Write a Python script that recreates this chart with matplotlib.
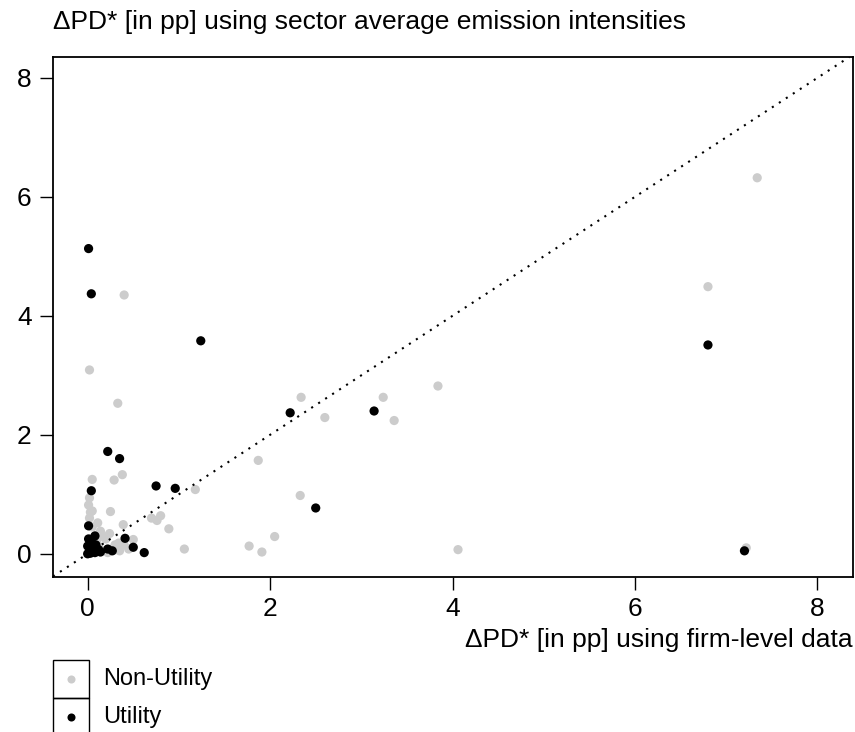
import matplotlib
matplotlib.use("Agg")
import matplotlib.pyplot as plt
from matplotlib.patches import Rectangle
from matplotlib.lines import Line2D

plt.rcParams["font.family"] = ["Liberation Sans", "DejaVu Sans"]

# Non-utility firms (grey)
nonutil_x = [7.34, 6.80, 0.40, 0.02, 3.84, 3.24, 2.34, 2.60, 3.36, 0.33, 1.87,
             0.05, 0.29, 0.38, 1.18, 2.33, 0.02, 0.01, 0.05, 0.25, 0.70, 0.76,
             0.80, 0.89, 0.39, 0.11, 1.06, 1.77, 1.91, 2.05, 4.06, 7.22, 0.24,
             0.34, 0.50, 0.17, 0.02, 0.05, 0.14, 0.10, 0.20, 0.30, 0.22, 0.35,
             0.45, 0.15, 0.40, 0.08, 0.12, 0.03]
nonutil_y = [6.32, 4.49, 4.35, 3.09, 2.82, 2.63, 2.63, 2.29, 2.24, 2.53, 1.57,
             1.25, 1.24, 1.33, 1.08, 0.98, 0.94, 0.82, 0.72, 0.71, 0.60, 0.56,
             0.64, 0.42, 0.49, 0.52, 0.08, 0.13, 0.03, 0.29, 0.07, 0.10, 0.34,
             0.18, 0.24, 0.29, 0.60, 0.45, 0.38, 0.20, 0.25, 0.15, 0.02, 0.05,
             0.08, 0.05, 0.15, 0.30, 0.12, 0.70]

# Utility firms (black)
util_x = [0.01, 0.04, 1.24, 6.80, 2.22, 3.14, 2.50, 0.22, 0.35, 0.75, 0.96,
          0.04, 7.20, 0.01, 0.08, 0.01, 0.41, 0.50, 0.62, 0.22, 0.27, 0.04,
          0.00, 0.06, 0.09, 0.12, 0.02, 0.00, 0.03, 0.08, 0.14]
util_y = [5.13, 4.37, 3.58, 3.51, 2.37, 2.40, 0.77, 1.72, 1.60, 1.14, 1.10,
          1.06, 0.05, 0.47, 0.30, 0.25, 0.26, 0.11, 0.02, 0.08, 0.05, 0.24,
          0.13, 0.10, 0.15, 0.07, 0.04, 0.00, 0.01, 0.02, 0.03]

xticks = [0, 2, 4, 6, 8]
yticks = [0, 2, 4, 6, 8]

W, H = 855, 732
fig = plt.figure(figsize=(W / 100, H / 100), dpi=100)
# axes box in pixels: x 53..853, y 57..577
ax = fig.add_axes([53 / W, 1 - 577 / H, 800 / W, 520 / H])

ax.scatter(nonutil_x, nonutil_y, s=44, color="#cccccc", edgecolors="none", zorder=2)
ax.scatter(util_x, util_y, s=44, color="black", edgecolors="none", zorder=3)
ax.axline((0, 0), slope=1, color="black", lw=1.5, linestyle=(0, (1, 3)), zorder=4)

ax.set_xlim(-0.38, 8.39)
ax.set_ylim(-0.39, 8.35)
ax.set_xticks(xticks)
ax.set_yticks(yticks)
ax.tick_params(labelsize=19, length=9.4, width=1, direction="out")
ax.tick_params(axis="x", pad=5)
ax.tick_params(axis="y", pad=6)
for s in ax.spines.values():
    s.set_linewidth(1.3)

fig.text(53 / W, 1 - 22 / H, "\u0394PD* [in pp] using sector average emission intensities",
         fontsize=19, ha="left", va="center")
fig.text(853 / W, 1 - 640 / H, "\u0394PD* [in pp] using firm-level data",
         fontsize=19, ha="right", va="center")

# legend box, R style
lx0, lw_, rh = 53 / W, 36 / W, 38 / H
ly_top = 1 - 660 / H
for i in range(2):
    fig.add_artist(Rectangle((lx0, ly_top - (i + 1) * rh), lw_, rh, transform=fig.transFigure,
                             fill=False, edgecolor="black", lw=1.0, clip_on=False))
leg_labels = ["Non-Utility", "Utility"]
leg_colors = ["#cccccc", "black"]
for i, (lab, c) in enumerate(zip(leg_labels, leg_colors)):
    yc = ly_top - (i + 0.5) * rh
    fig.add_artist(Line2D([lx0 + lw_ / 2], [yc], transform=fig.transFigure, marker="o",
                          markersize=5.8, color=c, markeredgewidth=0, linestyle="none"))
    fig.text(103 / W, yc, lab, fontsize=17, ha="left", va="center")

fig.savefig("out.png", dpi=100)
